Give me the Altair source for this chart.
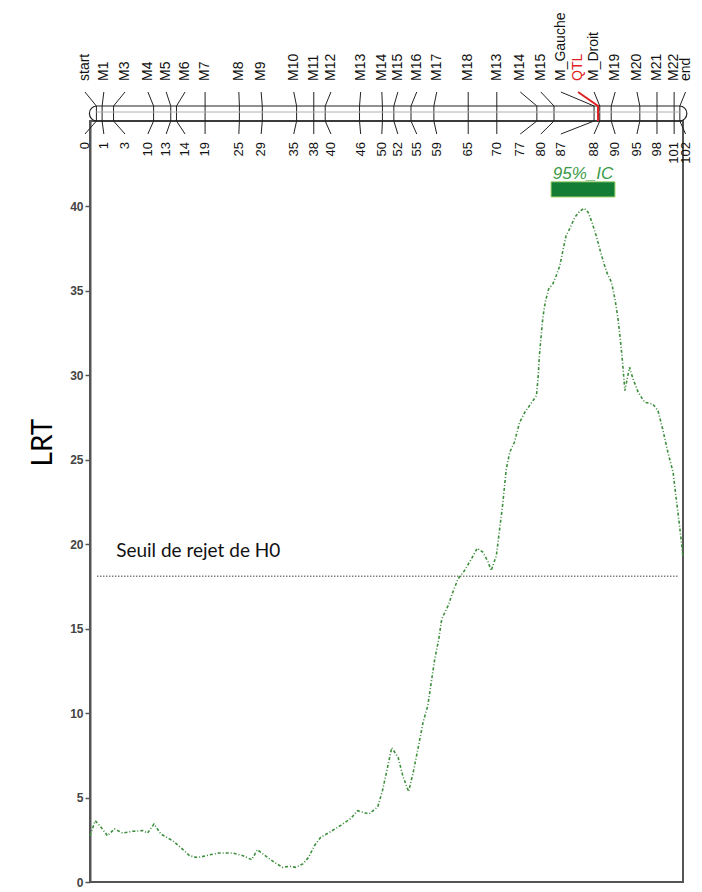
import altair as alt
import pandas as pd

# ---------------- data ----------------
# LRT profile along the linkage group (cM, LRT)
pos_cM = [0.0, 0.9, 1.9, 3.0, 4.2, 5.6, 7.3, 9.1, 9.9, 11.0, 12.2, 14.2, 15.9, 17.1,
          18.5, 20.5, 22.2, 24.5, 26.3, 27.8, 28.8, 30.3, 31.7, 33.1, 34.3, 35.4,
          36.6, 37.6, 38.6, 39.7, 41.2, 43.2, 44.9, 46.0, 48.0, 49.5, 50.3, 51.0,
          51.5, 51.9, 53.0, 53.8, 54.8, 55.6, 56.4, 57.3, 58.1, 58.7, 59.3, 60.0,
          60.5, 61.6, 62.4, 63.3, 64.4, 65.6, 66.6, 67.6, 68.5, 69.0, 69.9, 70.5,
          71.0, 71.6, 72.2, 73.0, 73.9, 74.8, 75.6, 76.8, 77.1, 77.3, 77.6, 77.9,
          78.3, 78.9, 79.6, 80.2, 80.8, 81.4, 81.9, 82.5, 83.4, 84.2, 85.0, 85.7,
          86.4, 87.2, 87.9, 88.5, 89.0, 89.7, 90.3, 90.8, 91.2, 91.6, 92.0, 92.4,
          92.8, 93.4, 94.3, 95.4, 96.8, 97.7, 98.5, 99.4, 100.3, 100.7, 101.2,
          101.6, 102.0]
lrt = [2.74, 3.63, 3.24, 2.74, 3.14, 2.90, 3.00, 3.04, 2.90, 3.43, 2.84, 2.45, 1.95,
       1.56, 1.44, 1.60, 1.72, 1.72, 1.56, 1.32, 1.91, 1.52, 1.17, 0.87, 0.93, 0.87,
       1.07, 1.46, 2.15, 2.65, 2.94, 3.37, 3.77, 4.22, 4.03, 4.45, 5.40, 6.50, 7.30,
       7.95, 7.38, 6.29, 5.35, 6.49, 7.87, 9.46, 10.44, 11.82, 13.20, 14.39, 15.57,
       16.36, 17.15, 17.94, 18.43, 19.12, 19.76, 19.52, 18.93, 18.43, 19.32, 21.00,
       22.40, 24.45, 25.44, 26.03, 27.21, 27.81, 28.20, 28.79, 29.98, 31.16, 32.34,
       33.43, 34.32, 35.11, 35.40, 35.90, 36.48, 37.48, 38.27, 38.66, 39.35, 39.70,
       39.88, 39.64, 39.00, 38.10, 37.20, 36.50, 36.00, 35.50, 34.50, 33.40, 32.20,
       30.77, 29.09, 29.78, 30.47, 29.78, 28.99, 28.40, 28.30, 27.90, 26.82, 25.44,
       24.25, 23.07, 21.69, 20.50, 19.22]

# genetic map
marker_names = ["start", "M1", "M3", "M4", "M5", "M6", "M7", "M8", "M9", "M10", "M11",
                "M12", "M13", "M14", "M15", "M16", "M17", "M18", "M13", "M14", "M15",
                "M_Gauche", "M_Droit", "M19", "M20", "M21", "M22", "end"]
marker_pos = [0, 1, 3, 10, 13, 14, 19, 25, 29, 35, 38, 40, 46, 50, 52, 55, 59, 65, 70,
              77, 80, 87, 88, 90, 95, 98, 101, 102]
label_pos = [-2.0, 1.3, 5.0, 9.0, 12.2, 15.5, 19.0, 24.9, 28.8, 34.5, 38.0, 41.0, 46.2,
             49.9, 52.7, 56.0, 59.5, 65.0, 70.0, 74.1, 77.7, 81.2, 87.0, 90.7, 94.5,
             98.0, 101.0, 103.0]
qtl_name = ["QTL"]
qtl_pos = [87.7]
qtl_label_pos = [84.2]

threshold = [18.1]
threshold_span = [1.2, 101.1]
threshold_text = ["Seuil de rejet de H0"]
threshold_text_at = [4.5, 19.25]

ic_bounds = [79.3, 90.3]
ic_text = ["95%_IC"]

# ---------------- layout / style constants ----------------
W, H = 593, 761
GREEN = "#3d8f3d"
IC_BAR_Y = (40.55, 41.45)
IC_TEXT_Y = 41.62
# map levels in page pixels above the plot (0 = page top, 122 = plot top)
NAME_Y, CONN_TOP, CHR_TOP, CHR_MID, CHR_BOT, CONN_BOT, NUM_Y = 82, 93, 107, 113, 122, 135, 143
FONT = "Liberation Sans"

plot_x = alt.Scale(domain=[0, 102], nice=False, zero=False)
plot_y = alt.Scale(domain=[0, 45.05], nice=False, zero=False)
map_x = alt.Scale(domain=[-1.119, 102.55], nice=False, zero=False)
map_y = alt.Scale(domain=[0, 122], range=[-122, 0], nice=False, zero=False)

# ---------------- tables ----------------
df_lrt = pd.DataFrame({"pos": pos_cM, "lrt": lrt})
df_thr = pd.DataFrame({"x0": [threshold_span[0]], "x1": [threshold_span[1]], "v": threshold})
df_thr_txt = pd.DataFrame({"x": [threshold_text_at[0]], "y": [threshold_text_at[1]],
                           "t": threshold_text})
df_ic = pd.DataFrame({"x0": [ic_bounds[0]], "x1": [ic_bounds[1]],
                      "y0": [IC_BAR_Y[0]], "y1": [IC_BAR_Y[1]],
                      "xm": [(ic_bounds[0] + ic_bounds[1]) / 2], "ym": [IC_TEXT_Y],
                      "t": ic_text})

conn_rows = []
for i, (lp, mp) in enumerate(zip(label_pos, marker_pos)):
    for k, (xx, yy) in enumerate([(lp, CONN_TOP), (mp, CHR_TOP), (mp, CHR_BOT), (lp, CONN_BOT)]):
        conn_rows.append({"m": i, "k": k, "x": xx, "y": yy})
df_conn = pd.DataFrame(conn_rows)

qtl_rows = []
for k, (xx, yy) in enumerate([(qtl_label_pos[0], CONN_TOP), (qtl_pos[0], CHR_TOP),
                              (qtl_pos[0], CHR_BOT)]):
    qtl_rows.append({"k": k, "x": xx, "y": yy})
df_qtl = pd.DataFrame(qtl_rows)

df_chr = pd.DataFrame({"x0": [marker_pos[0]], "x1": [marker_pos[-1]],
                       "y0": [CHR_TOP], "y1": [CHR_BOT], "ym": [CHR_MID]})
df_names = pd.DataFrame({"x": label_pos, "name": marker_names,
                         "num": [str(p) for p in marker_pos],
                         "yn": [NAME_Y] * len(label_pos), "yp": [NUM_Y] * len(label_pos)})
df_qtl_lab = pd.DataFrame({"x": qtl_label_pos, "t": qtl_name, "y": [NAME_Y]})

# ---------------- plot layers ----------------
y_axis = alt.Axis(values=[0, 5, 10, 15, 20, 25, 30, 35, 40], tickSize=5, tickWidth=1.5,
                  tickColor="#555", domainColor="#555", domainWidth=2, grid=False,
                  labelFont=FONT, labelFontWeight="bold", labelFontSize=12,
                  labelColor="#444", labelPadding=2,
                  title="LRT", titleFont="Lato", titleFontSize=28,
                  titleFontWeight="normal", titleColor="black",
                  titleX=-33, titleY=321)

curve = alt.Chart(df_lrt).mark_line(color=GREEN, strokeWidth=1.6,
                                    strokeDash=[3, 2, 1, 2]).encode(
    x=alt.X("pos:Q", scale=plot_x, axis=None),
    y=alt.Y("lrt:Q", scale=plot_y, axis=y_axis),
)

thr = alt.Chart(df_thr).mark_rule(color="#808080", strokeWidth=1.3,
                                  strokeDash=[1.5, 1.5]).encode(
    x=alt.X("x0:Q", scale=plot_x, axis=None), x2="x1:Q",
    y=alt.Y("v:Q", scale=plot_y, axis=None),
)

thr_txt = alt.Chart(df_thr_txt).mark_text(align="left", baseline="alphabetic",
                                          font="Lato", fontSize=19, color="#111").encode(
    x=alt.X("x:Q", scale=plot_x, axis=None),
    y=alt.Y("y:Q", scale=plot_y, axis=None),
    text="t:N",
)

ic_bar = alt.Chart(df_ic).mark_rect(color="#137d36", stroke="#a6d66f", strokeWidth=1).encode(
    x=alt.X("x0:Q", scale=plot_x, axis=None), x2="x1:Q",
    y=alt.Y("y0:Q", scale=plot_y, axis=None), y2="y1:Q",
)

ic_txt = alt.Chart(df_ic).mark_text(align="center", baseline="alphabetic", font=FONT,
                                    fontSize=17, fontStyle="italic", color="#3a9a48").encode(
    x=alt.X("xm:Q", scale=plot_x, axis=None),
    y=alt.Y("ym:Q", scale=plot_y, axis=None),
    text="t:N",
)

# ---------------- map layers ----------------
conn = alt.Chart(df_conn).mark_line(color="#222", strokeWidth=1).encode(
    x=alt.X("x:Q", scale=map_x, axis=None),
    y=alt.Y("y:Q", scale=map_y, axis=None),
    detail="m:N",
    order="k:Q",
)

chrom = alt.Chart(df_chr).mark_rect(fill="white", fillOpacity=0, stroke="#222",
                                    strokeWidth=1.2, cornerRadius=7.5,
                                    xOffset=-7, x2Offset=7).encode(
    x=alt.X("x0:Q", scale=map_x, axis=None), x2="x1:Q",
    y=alt.Y("y0:Q", scale=map_y, axis=None), y2="y1:Q",
)

chrom_mid = alt.Chart(df_chr).mark_rule(color="#b0b0b0", strokeWidth=1).encode(
    x=alt.X("x0:Q", scale=map_x, axis=None), x2="x1:Q",
    y=alt.Y("ym:Q", scale=map_y, axis=None),
)

qtl_line = alt.Chart(df_qtl).mark_line(color="#e02020", strokeWidth=2).encode(
    x=alt.X("x:Q", scale=map_x, axis=None),
    y=alt.Y("y:Q", scale=map_y, axis=None),
    order="k:Q",
)

names = alt.Chart(df_names).mark_text(angle=270, align="left", baseline="middle",
                                      font=FONT, fontSize=14, color="#111").encode(
    x=alt.X("x:Q", scale=map_x, axis=None),
    y=alt.Y("yn:Q", scale=map_y, axis=None),
    text="name:N",
)

nums = alt.Chart(df_names).mark_text(angle=270, align="right", baseline="middle",
                                     font=FONT, fontSize=13, color="#111").encode(
    x=alt.X("x:Q", scale=map_x, axis=None),
    y=alt.Y("yp:Q", scale=map_y, axis=None),
    text="num:N",
)

qtl_lab = alt.Chart(df_qtl_lab).mark_text(angle=270, align="left", baseline="middle",
                                          font=FONT, fontSize=14, color="#e02020").encode(
    x=alt.X("x:Q", scale=map_x, axis=None),
    y=alt.Y("y:Q", scale=map_y, axis=None),
    text="t:N",
)

chart = alt.layer(
    thr, thr_txt, curve, ic_bar, ic_txt,
    conn, chrom_mid, chrom, qtl_line, names, nums, qtl_lab,
).resolve_scale(x="independent", y="independent").properties(
    width=W, height=H,
    autosize=alt.AutoSizeParams(type="none"),
    padding={"left": 82, "top": 113, "right": 11, "bottom": 6},
).configure_view(stroke="#555", strokeWidth=2)

chart.save("out.html", embed_options={"renderer": "svg", "actions": False})
